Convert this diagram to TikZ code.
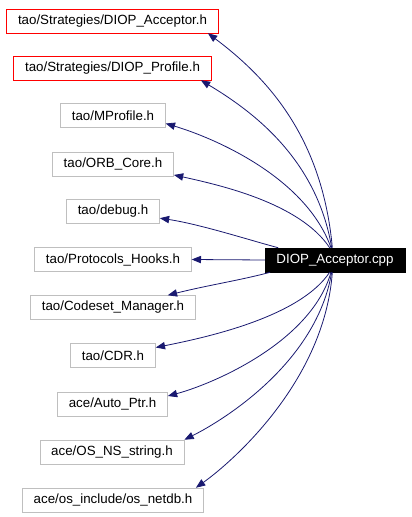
\documentclass[tikz,border=0pt]{standalone}
\usepackage{fontspec}
\setmainfont{Liberation Sans}
\usetikzlibrary{arrows.meta, positioning, calc}
\definecolor{edgeblue}{HTML}{191970}
\definecolor{boxgrey}{HTML}{BFBFBF}
\definecolor{linkred}{HTML}{FF0000}
\tikzstyle{arrow} = [edgeblue, line width=0.6pt, -{Triangle[length=7pt,width=5.5pt]}]
\tikzstyle{header} = [rectangle, minimum height=18pt, inner xsep=8.5pt, text centered, draw=boxgrey, fill=white, font=\fontsize{10}{12}\selectfont]

\begin{document}
\begin{tikzpicture}[x=0.75pt, y=-0.75pt,
        linked/.style={header, draw=linkred},
        mainnode/.style={header, draw=black, fill=black, text=white}]
    \useasboundingbox (0,0) rectangle (411,517);

    \node [linked] (acceptor) at (112.5,21) {tao/Strategies/DIOP\_Acceptor.h};
    \node [linked] (profile) at (112.5,68) {tao/Strategies/DIOP\_Profile.h};
    \node [header] (mprofile) at (113,115.5) {tao/MProfile.h};
    \node [header] (orbcore) at (113,164) {tao/ORB\_Core.h};
    \node [header] (debug) at (113,211.5) {tao/debug.h};
    \node [header] (hooks) at (113,259.5) {tao/Protocols\_Hooks.h};
    \node [header] (codeset) at (113,307.5) {tao/Codeset\_Manager.h};
    \node [header] (cdr) at (113,355.5) {tao/CDR.h};
    \node [header] (autoptr) at (112.5,404) {ace/Auto\_Ptr.h};
    \node [header] (osstring) at (112,452) {ace/OS\_NS\_string.h};
    \node [header] (netdb) at (113,500) {ace/os\_include/os\_netdb.h};

    \node [mainnode] (cpp) at (335,260) {DIOP\_Acceptor.cpp};

    % upper includes
    \draw[arrow] ([xshift=-2pt]cpp.north) .. controls +(-10,-110) and +(60,45) .. ([xshift=-8pt]acceptor.south east);
    \draw[arrow] ([xshift=-2.5pt]cpp.north) .. controls +(-15,-90) and +(50,30) .. ([xshift=-8pt]profile.south east);
    \draw[arrow] ([xshift=-3pt]cpp.north) .. controls +(-25,-70) and +(50,15) .. ([yshift=-6pt]mprofile.east);
    \draw[arrow] ([xshift=-4pt]cpp.north) .. controls +(-30,-45) and +(45,10) .. ([yshift=1pt]orbcore.south east);
    \draw[arrow] ([xshift=10pt]cpp.north west) .. controls +(-30,-8) and +(40,6) .. ([yshift=-5pt]debug.east);
    \draw[arrow] (cpp.west) -- (hooks.east);
    % lower includes
    \draw[arrow] ([xshift=4pt]cpp.south west) .. controls +(-30,8) and +(40,-10) .. ([xshift=-21pt]codeset.north east);
    \draw[arrow] ([xshift=-4pt]cpp.south) .. controls +(-30,45) and +(50,-10) .. ([yshift=6pt]cdr.east);
    \draw[arrow] ([xshift=-3pt]cpp.south) .. controls +(-20,70) and +(45,-12) .. ([yshift=6pt]autoptr.east);
    \draw[arrow] ([xshift=-2.5pt]cpp.south) .. controls +(-15,90) and +(40,-20) .. (osstring.north east);
    \draw[arrow] ([xshift=-2pt]cpp.south) .. controls +(-8,110) and +(35,-25) .. ([xshift=-6pt]netdb.north east);
\end{tikzpicture}
\end{document}
